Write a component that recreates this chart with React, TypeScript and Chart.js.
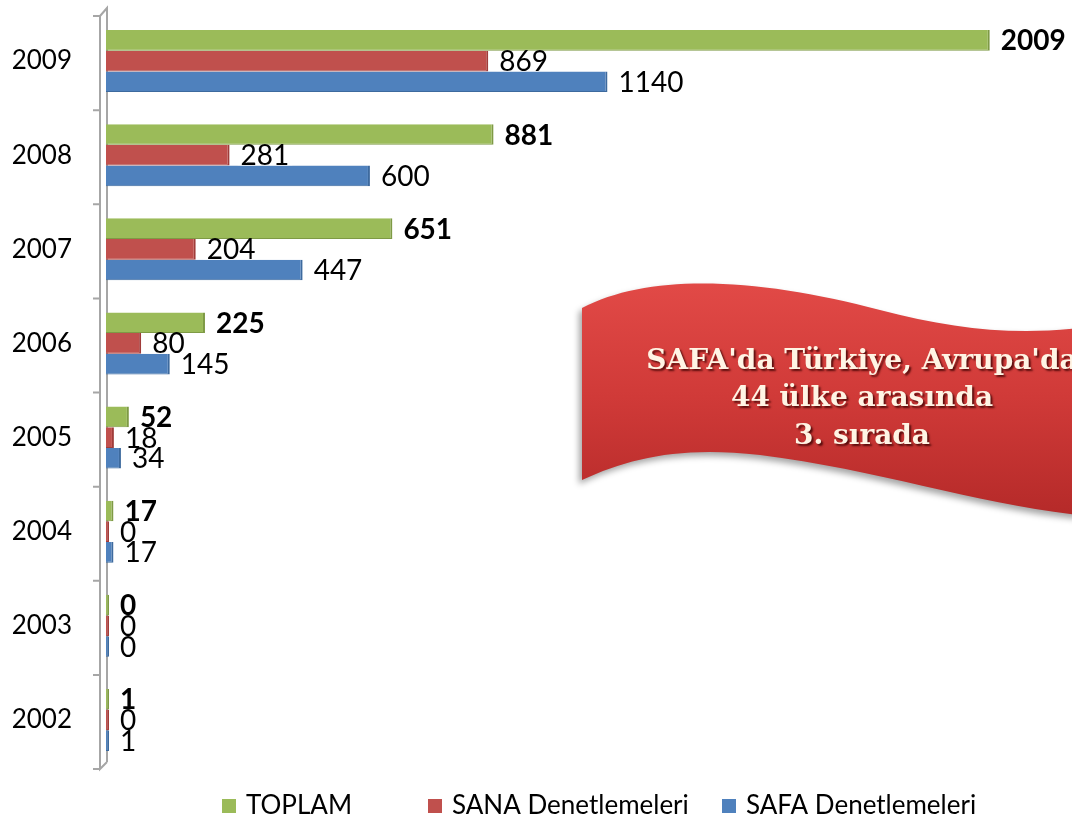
import React, { useEffect, useRef } from "react";
import { Chart, registerables } from "chart.js";

Chart.register(...registerables);

const years = ["2009", "2008", "2007", "2006", "2005", "2004", "2003", "2002"];
const toplam = [2009, 881, 651, 225, 52, 17, 0, 1];
const sana = [869, 281, 204, 80, 18, 0, 0, 0];
const safa = [1140, 600, 447, 145, 34, 17, 0, 1];
const seriesNames = ["TOPLAM", "SANA Denetlemeleri", "SAFA Denetlemeleri"];
const seriesColors = ["#9BBB59", "#C0504D", "#4F81BD"];
const seriesBorders = ["#7E9A45", "#A03C3A", "#3D6A9E"];
const bannerLines = ["SAFA'da Türkiye, Avrupa'da", "44 ülke arasında", "3. sırada"];

const FONT = "Lato, 'Noto Sans', sans-serif";

const wallPlugin = {
  id: "wall3d",
  beforeDatasetsDraw(chart: any) {
    const { ctx } = chart;
    const y = chart.scales.y;
    const front = chart.chartArea.left + 1;
    const back = front - 7;
    const top = y.top;
    const bottom = y.bottom;
    ctx.save();
    ctx.strokeStyle = "#A6A6A6";
    ctx.lineWidth = 2;
    ctx.beginPath();
    ctx.moveTo(back, top + 2);
    ctx.lineTo(back, bottom + 2);
    ctx.lineTo(front, bottom - 5);
    ctx.moveTo(back, top + 2);
    ctx.lineTo(front, top - 6);
    ctx.lineTo(front, bottom - 5);
    ctx.stroke();
    const n = y.ticks.length;
    ctx.beginPath();
    for (let i = 0; i <= n; i++) {
      let p;
      if (i === 0) p = top;
      else if (i === n) p = bottom;
      else p = (y.getPixelForTick(i - 1) + y.getPixelForTick(i)) / 2;
      ctx.moveTo(back - 7, p + 2);
      ctx.lineTo(back, p + 2);
    }
    ctx.stroke();
    ctx.restore();
  },
};

const labelPlugin = {
  id: "barLabels",
  afterDatasetsDraw(chart: any) {
    const { ctx } = chart;
    ctx.save();
    ctx.textBaseline = "middle";
    ctx.textAlign = "left";
    chart.data.datasets.forEach((ds: any, di: number) => {
      const meta = chart.getDatasetMeta(di);
      meta.data.forEach((bar: any, i: number) => {
        const text = String(ds.data[i]);
        ctx.font = (di === 0 ? "bold " : "") + "28px " + FONT;
        const w = ctx.measureText(text).width;
        const x = bar.x + 11;
        const yy = bar.y + 1;
        ctx.fillStyle = "#FFFFFF";
        ctx.fillRect(x - 3, yy - 9, w + 6, 18);
        ctx.fillStyle = "#000000";
        ctx.fillText(text, x, yy);
      });
    });
    ctx.restore();
  },
};

const overlayPlugin = {
  id: "overlay",
  afterDraw(chart: any) {
    const { ctx } = chart;
    ctx.save();
    ctx.beginPath();
    ctx.moveTo(582, 308);
    ctx.bezierCurveTo(650, 272, 760, 278, 880, 310);
    ctx.bezierCurveTo(950, 328, 1010, 336, 1080, 328);
    ctx.lineTo(1080, 515);
    ctx.bezierCurveTo(980, 505, 880, 470, 760, 455);
    ctx.bezierCurveTo(680, 446, 630, 458, 582, 480);
    ctx.closePath();
    const g = ctx.createLinearGradient(0, 280, 0, 515);
    g.addColorStop(0, "#E24A47");
    g.addColorStop(0.5, "#D03A38");
    g.addColorStop(1, "#B52A29");
    ctx.fillStyle = g;
    ctx.shadowColor = "rgba(0,0,0,0.35)";
    ctx.shadowBlur = 6;
    ctx.shadowOffsetX = -3;
    ctx.shadowOffsetY = 4;
    ctx.fill();
    ctx.restore();

    ctx.save();
    ctx.font = "bold 28px 'DejaVu Serif', serif";
    ctx.textAlign = "center";
    ctx.textBaseline = "middle";
    ctx.shadowColor = "rgba(60,0,0,0.8)";
    ctx.shadowBlur = 2;
    ctx.shadowOffsetX = 2;
    ctx.shadowOffsetY = 2;
    ctx.fillStyle = "#FFF4E4";
    const ys = [362, 399, 437];
    bannerLines.forEach((t, i) => ctx.fillText(t, 862, ys[i]));
    ctx.restore();

    ctx.save();
    const xs = [222, 428, 722];
    ctx.font = "26px " + FONT;
    ctx.textBaseline = "middle";
    ctx.textAlign = "left";
    seriesNames.forEach((name, i) => {
      ctx.fillStyle = seriesColors[i];
      ctx.fillRect(xs[i], 799, 14, 14);
      ctx.fillStyle = "#000000";
      ctx.fillText(name, xs[i] + 24, 806);
    });
    ctx.restore();
  },
};

export default function App() {
  const ref = useRef<HTMLCanvasElement>(null);
  useEffect(() => {
    document.body.style.margin = "0";
    const sets = [toplam, sana, safa];
    const chart = new Chart(ref.current as HTMLCanvasElement, {
      type: "bar",
      data: {
        labels: years,
        datasets: sets.map((d, i) => ({
          label: seriesNames[i],
          data: d,
          backgroundColor: seriesColors[i],
          borderColor: seriesBorders[i],
          borderWidth: { top: 0, bottom: 1, left: 0, right: 2 },
          borderSkipped: "left",
          minBarLength: 3,
          categoryPercentage: 0.66,
          barPercentage: 1,
        })),
      },
      options: {
        indexAxis: "y",
        animation: false,
        responsive: false,
        layout: { padding: { top: 14, right: 7, bottom: 55, left: 0 } },
        plugins: { legend: { display: false }, tooltip: { enabled: false } },
        scales: {
          x: { display: false, min: 0, max: 2180 },
          y: {
            afterFit: (s: any) => {
              s.width = 106;
              s.paddingTop = 0;
              s.paddingBottom = 0;
            },
            grid: { display: false },
            border: { display: false },
            ticks: {
              color: "#000000",
              font: { family: FONT, size: 26 },
              padding: 26,
            },
          },
        },
      } as any,
      plugins: [wallPlugin, labelPlugin, overlayPlugin],
    });
    return () => chart.destroy();
  }, []);
  return (
    <div style={{ position: "absolute", left: 0, top: 0, width: 1072, height: 822 }}>
      <canvas ref={ref} width={1072} height={822} />
    </div>
  );
}
